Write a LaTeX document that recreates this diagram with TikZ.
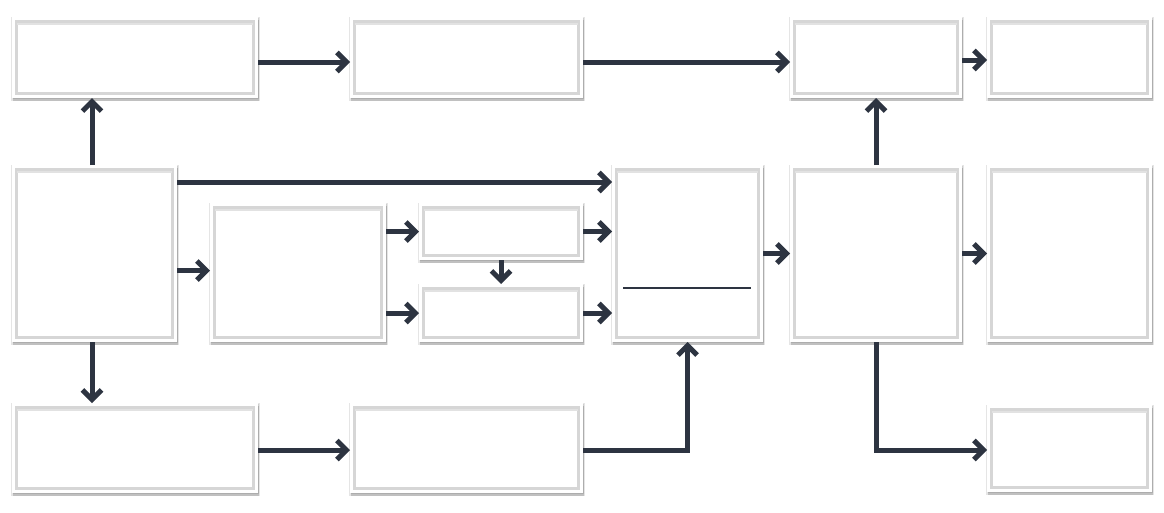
\documentclass[tikz,border=0pt]{standalone}
\usetikzlibrary{arrows.meta,shadows}
\definecolor{dark}{HTML}{2D3441}
\definecolor{frame}{HTML}{D6D6D6}
\begin{document}
\begin{tikzpicture}[x=1pt,y=-1pt,
  box/.style={fill=white, draw=none, inner sep=0pt, outer sep=0pt,
    general shadow={shadow xshift=0.5pt, shadow yshift=-1pt, shadow scale=1.0, opacity=0.10, fill=black,
      draw=black, line width=3pt},
    drop shadow={shadow xshift=1pt, shadow yshift=-2.5pt, opacity=0.16, fill=black},
    path picture={\draw[frame, line width=2.6pt]
      ([shift={(4.3pt,4.3pt)}]path picture bounding box.south west) rectangle
      ([shift={(-4.3pt,-4.3pt)}]path picture bounding box.north east);
      \draw[frame!70, line width=1.5pt]
      ([shift={(5pt,-7pt)}]path picture bounding box.north west) --
      ([shift={(-5pt,-7pt)}]path picture bounding box.north east);}},
  arr/.style={draw=dark, line width=5pt, -{Straight Barb[length=9.5pt,width=19pt]}},
  line/.style={draw=dark, line width=5pt}]
\useasboundingbox (0,0) rectangle (1164,512);
\node[box, minimum width=246pt, minimum height=81pt] (A) at (135,57.5) {};
\node[box, minimum width=233pt, minimum height=81pt] (B) at (466.5,57.5) {};
\node[box, minimum width=172pt, minimum height=81pt] (C) at (876,57.5) {};
\node[box, minimum width=165pt, minimum height=81pt] (D) at (1069.5,57.5) {};
\node[box, minimum width=165pt, minimum height=177pt] (E) at (94.5,253.5) {};
\node[box, minimum width=176pt, minimum height=139pt] (F) at (298,272.5) {};
\node[box, minimum width=164pt, minimum height=57pt] (G) at (501,231.5) {};
\node[box, minimum width=164pt, minimum height=58pt] (H) at (501,313) {};
\node[box, minimum width=151pt, minimum height=177pt] (I) at (687.5,253.5) {};
\node[box, minimum width=172pt, minimum height=177pt] (J) at (876,253.5) {};
\node[box, minimum width=165pt, minimum height=177pt] (K) at (1069.5,253.5) {};
\node[box, minimum width=246pt, minimum height=90pt] (L) at (135,448) {};
\node[box, minimum width=233pt, minimum height=90pt] (M) at (466.5,448) {};
\node[box, minimum width=165pt, minimum height=87pt] (N) at (1069.5,448.5) {};
\coordinate (Isep1) at (623,288);
\coordinate (Isep2) at (751,288);
\draw[dark, line width=1.6pt] (Isep1) -- (Isep2);
% connectors
\draw[arr] ([yshift=-4.5pt]A.east) -- ([yshift=-4.5pt]B.west);
\draw[arr] ([yshift=-4.5pt]B.east) -- ([yshift=-4.5pt]C.west);
\draw[arr] ([yshift=-2.5pt]C.east) -- ([yshift=-2.5pt]D.west);
\draw[arr] ([xshift=-2.5pt]E.north) -- ([xshift=-2.5pt]E.north |- A.south);
\draw[arr] ([xshift=-2.5pt]E.south) -- ([xshift=-2.5pt]E.south |- L.north);
\draw[arr] ([yshift=-17pt]E.north east) -- ([yshift=-17pt]E.north east -| I.west);
\draw[arr] ([yshift=2pt]E.east |- F.west) -- ([yshift=2pt]F.west);
\draw[arr] (F.east |- G.west) -- (G.west);
\draw[arr] (F.east |- H.west) -- (H.west);
\draw[arr] (G.south) -- (H.north);
\draw[arr] (G.east) -- (G.east -| I.west);
\draw[arr] (H.east) -- (H.east -| I.west);
\draw[arr] ([yshift=-2pt]L.east) -- ([yshift=-2pt]M.west);
\draw[arr] ([yshift=-2pt]M.east) -| (I.south);
\draw[arr] (I.east) -- (J.west);
\draw[arr] (J.north) -- (C.south);
\draw[arr] (J.east) -- (K.west);
\draw[arr] (J.south) |- ([yshift=-1.5pt]N.west);
\end{tikzpicture}
\end{document}
